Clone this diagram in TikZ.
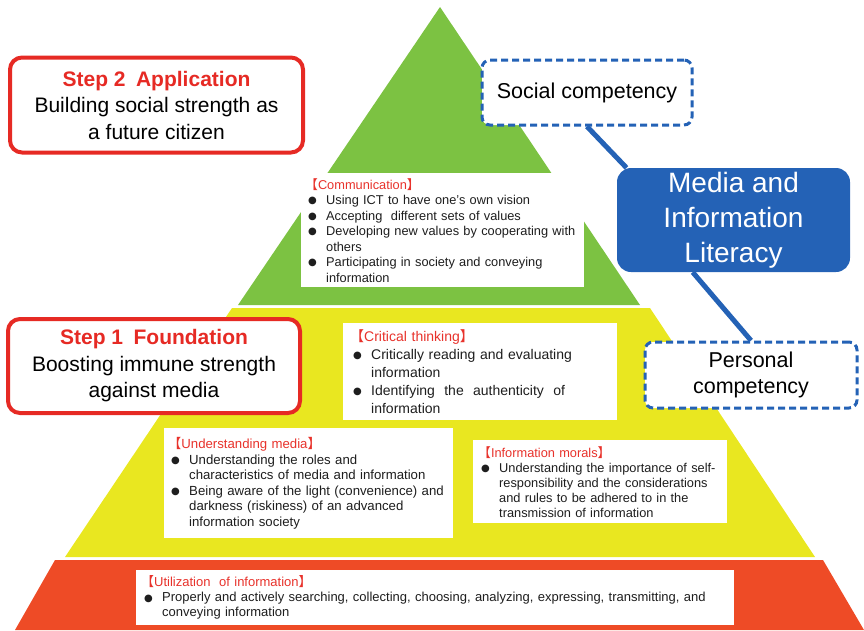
\documentclass[tikz,border=0pt]{standalone}
\usepackage{fontspec}
\setmainfont{Liberation Sans}
\newfontfamily\cjk{Noto Sans CJK JP}
\newfontfamily\symb{DejaVu Sans}

\definecolor{layergreen}{RGB}{124,194,66}
\definecolor{layeryellow}{RGB}{233,231,32}
\definecolor{layerred}{RGB}{238,75,38}
\definecolor{milblue}{RGB}{36,98,182}
\definecolor{stepred}{RGB}{230,42,36}
\definecolor{titlered}{RGB}{232,50,43}
\definecolor{bodygray}{RGB}{30,30,30}

\newcommand{\bitem}{\par\hangindent=18pt\hangafter=1\noindent\makebox[18pt][l]{\raisebox{0.6pt}{\symb\fontsize{10}{10}\selectfont ●}}}
\newcommand{\boxtitle}[1]{\noindent{\color{titlered}\hspace*{-3pt}{\cjk 【}#1{\cjk 】}}}

\begin{document}
\begin{tikzpicture}[x=1pt,y=-1pt]

\tikzset{
  stepbox/.style={draw=stepred, line width=4pt, rounded corners=12pt, fill=white, align=center, inner sep=0pt, font=\fontsize{21}{26.5}\selectfont},
  compbox/.style={draw=milblue, line width=3pt, dash pattern=on 7pt off 4pt, rounded corners=8pt, fill=white, align=center, inner sep=0pt, font=\fontsize{21.5}{26}\selectfont},
  milbox/.style={fill=milblue, rounded corners=14pt, text=white, align=center, inner sep=0pt, font=\fontsize{28}{35}\selectfont},
  itembox/.style={fill=white, anchor=north west, align=left, inner ysep=0pt, text=bodygray},
  link/.style={draw=milblue, line width=5pt}
}

\useasboundingbox (0,0) rectangle (864,630);

\fill[layergreen] (440,7) -- (640,305) -- (238,305) -- cycle;
\fill[layeryellow] (232,308) -- (650,308) -- (815,557) -- (65,557) -- cycle;
\fill[layerred] (55,560) -- (823,560) -- (864,630) -- (15,630) -- cycle;

\node[stepbox, minimum width=293pt, minimum height=95pt] (step2) at (156.5,105) {{\color{stepred}\bfseries Step 2\enspace Application}\\Building social strength as\\a future citizen};
\node[stepbox, minimum width=292pt, minimum height=94pt] (step1) at (154,366) {{\color{stepred}\bfseries Step 1\enspace Foundation}\\Boosting immune strength\\against media};

\node[compbox, minimum width=210pt, minimum height=65pt] (social) at (587,92.5) {Social competency};
\node[compbox, minimum width=212pt, minimum height=66pt] (personal) at (751,375) {Personal\\competency};
\node[milbox, minimum width=233pt, minimum height=104pt] (mil) at (733.5,220) {Media and\\Information\\Literacy};

\draw[link] (social.south) -- (mil.154);
\draw[link] (mil.232) -- (personal.north);

\node[itembox, text width=269pt, inner xsep=7pt, minimum height=114pt, font=\fontsize{12.8}{15.5}\selectfont] (comm) at (301,173) {\boxtitle{Communication}
\bitem Using ICT to have one's own vision
\bitem Accepting\ \ different sets of values
\bitem Developing new values by cooperating with\newline others
\bitem Participating in society and conveying\newline information\par};

\node[itembox, text width=254pt, inner xsep=10pt, minimum height=97pt, font=\fontsize{14}{18}\selectfont] (critical) at (343,323) {\boxtitle{Critical thinking}
\bitem Critically reading and evaluating\newline information
\bitem Identifying\ \ the\ \ authenticity\ \ of\newline information\par};

\node[itembox, text width=275pt, inner xsep=7pt, minimum height=110pt, font=\fontsize{13.2}{15.5}\selectfont] (media) at (164,428) {\boxtitle{Understanding media}
\bitem Understanding the roles and\newline characteristics of media and information
\bitem Being aware of the light (convenience) and\newline darkness (riskiness) of an advanced\newline information society\par};

\node[itembox, text width=238pt, inner xsep=8pt, minimum height=83pt, font=\fontsize{12.8}{15}\selectfont] (morals) at (473,440) {\boxtitle{Information morals}
\bitem Understanding the importance of self-\newline responsibility and the considerations\newline and rules to be adhered to in the\newline transmission of information\par};

\node[itembox, text width=582pt, inner xsep=8pt, minimum height=55pt, font=\fontsize{13}{15}\selectfont] (utilization) at (136,570) {\boxtitle{Utilization\ \ of information}
\bitem Properly and actively searching, collecting, choosing, analyzing, expressing, transmitting, and\newline conveying information\par};

\end{tikzpicture}
\end{document}
